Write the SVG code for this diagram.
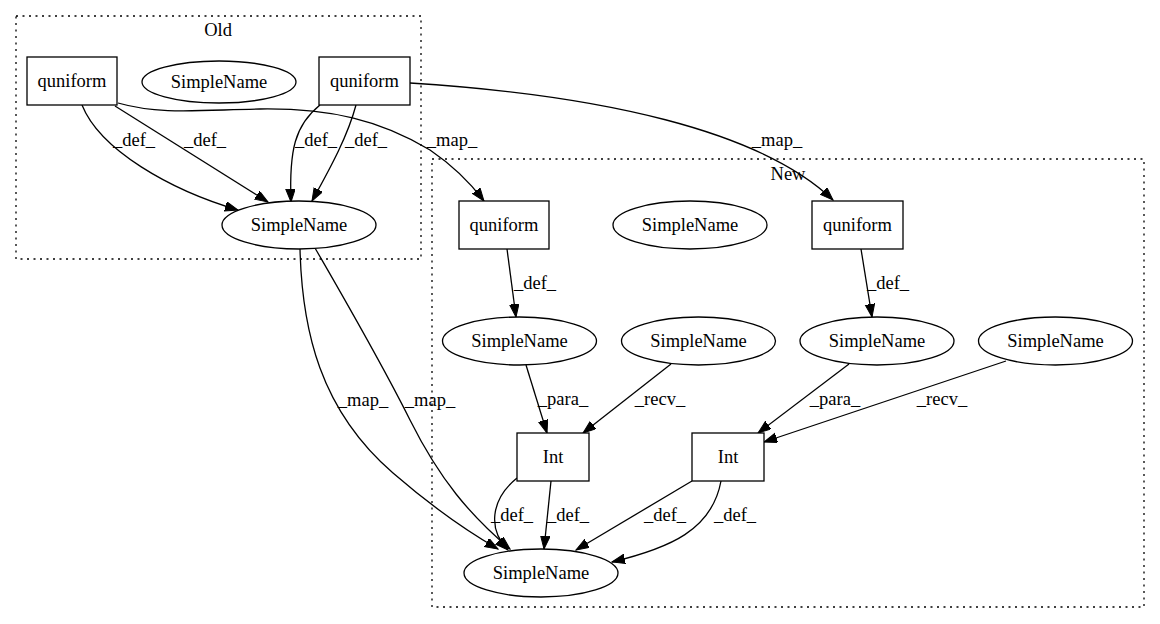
<svg xmlns="http://www.w3.org/2000/svg" width="1160" height="624" viewBox="0 0 1160 624">
<style>
text{font-family:"Liberation Serif","Times New Roman",serif;font-size:18.5px;fill:#000;text-anchor:middle}
.n{fill:#fff;stroke:#000;stroke-width:1.3}
.c{fill:none;stroke:#000;stroke-width:1.3;stroke-dasharray:2,4.5}
.e{fill:none;stroke:#000;stroke-width:1.3;marker-end:url(#a)}
</style>
<defs>
<marker id="a" markerUnits="userSpaceOnUse" markerWidth="14" markerHeight="11" refX="13" refY="4.75" orient="auto">
<path d="M0,0 L13,4.75 L0,9.5 z" fill="#000" stroke="#000" stroke-width="1"/>
</marker>
</defs>
<rect width="1160" height="624" fill="#fff"/>
<g id="cluster_old">
<rect class="c" x="16" y="16" width="405" height="243"/>
<text x="218" y="36">Old</text>
</g>
<g id="cluster_new">
<rect class="c" x="432" y="159" width="712" height="448"/>
<text x="788" y="180">New</text>
</g>
<g id="edges">
<path class="e" d="M82,105 C100,150 170,190 238,210"/>
<text x="134" y="146">_def_</text>
<path class="e" d="M115,106 L268,202"/>
<text x="205" y="146">_def_</text>
<path class="e" d="M320,105 C295,125 289,150 291,202"/>
<text x="316" y="146">_def_</text>
<path class="e" d="M356,105 C348,135 332,165 312,201"/>
<text x="366" y="146">_def_</text>
<path class="e" d="M118,103 C160,115 200,110 260,109 C330,108 380,120 430,150 C455,167 472,185 484,201"/>
<text x="452" y="146">_map_</text>
<path class="e" d="M410,83 C600,95 760,130 833,200"/>
<text x="777" y="146">_map_</text>
<path class="e" d="M507,249 L516,317"/>
<text x="535" y="289">_def_</text>
<path class="e" d="M861,249 L872,317"/>
<text x="888" y="289">_def_</text>
<path class="e" d="M526,365 L547,433"/>
<text x="563" y="405">_para_</text>
<path class="e" d="M671,364 L583,433"/>
<text x="660" y="405">_recv_</text>
<path class="e" d="M849,364 L758,433"/>
<text x="835" y="405">_para_</text>
<path class="e" d="M1006,361 L764,442"/>
<text x="942" y="405">_recv_</text>
<path class="e" d="M517,478 C490,500 488,530 508,550"/>
<text x="512" y="521">_def_</text>
<path class="e" d="M551,481 L544,549"/>
<text x="568" y="521">_def_</text>
<path class="e" d="M692,481 L576,550"/>
<text x="665" y="521">_def_</text>
<path class="e" d="M721,481 C712,530 670,548 612,562"/>
<text x="735" y="521">_def_</text>
<path class="e" d="M300,249 C302,330 320,410 393,473 C430,505 465,530 498,549"/>
<text x="363" y="406">_map_</text>
<path class="e" d="M315,248 C345,300 380,360 410,420 C440,480 470,515 510,549"/>
<text x="430" y="406">_map_</text>
</g>
<g id="old_quniform1"><rect class="n" x="27" y="57" width="90" height="48"/><text x="72" y="87">quniform</text></g>
<g id="old_simplename_iso"><ellipse class="n" cx="219" cy="82" rx="77" ry="21"/><text x="219" y="88">SimpleName</text></g>
<g id="old_quniform2"><rect class="n" x="319" y="57" width="91" height="48"/><text x="364.5" y="87">quniform</text></g>
<g id="old_simplename"><ellipse class="n" cx="299" cy="225" rx="77" ry="24"/><text x="299" y="231">SimpleName</text></g>
<g id="new_quniform1"><rect class="n" x="459" y="201" width="90" height="48"/><text x="504" y="231">quniform</text></g>
<g id="new_simplename_iso"><ellipse class="n" cx="690" cy="225" rx="77" ry="24"/><text x="690" y="231">SimpleName</text></g>
<g id="new_quniform2"><rect class="n" x="812" y="201" width="91" height="48"/><text x="857.5" y="231">quniform</text></g>
<g id="new_sn_a"><ellipse class="n" cx="519.5" cy="341" rx="77" ry="24"/><text x="519.5" y="347">SimpleName</text></g>
<g id="new_sn_b"><ellipse class="n" cx="698.5" cy="341" rx="77" ry="24"/><text x="698.5" y="347">SimpleName</text></g>
<g id="new_sn_c"><ellipse class="n" cx="877" cy="341" rx="77" ry="24"/><text x="877" y="347">SimpleName</text></g>
<g id="new_sn_d"><ellipse class="n" cx="1055.5" cy="341" rx="77" ry="24"/><text x="1055.5" y="347">SimpleName</text></g>
<g id="new_int_a"><rect class="n" x="517" y="433" width="72" height="48"/><text x="553" y="463">Int</text></g>
<g id="new_int_b"><rect class="n" x="692" y="433" width="72" height="48"/><text x="728" y="463">Int</text></g>
<g id="new_simplename"><ellipse class="n" cx="541" cy="573" rx="77" ry="24"/><text x="541" y="579">SimpleName</text></g>
</svg>
